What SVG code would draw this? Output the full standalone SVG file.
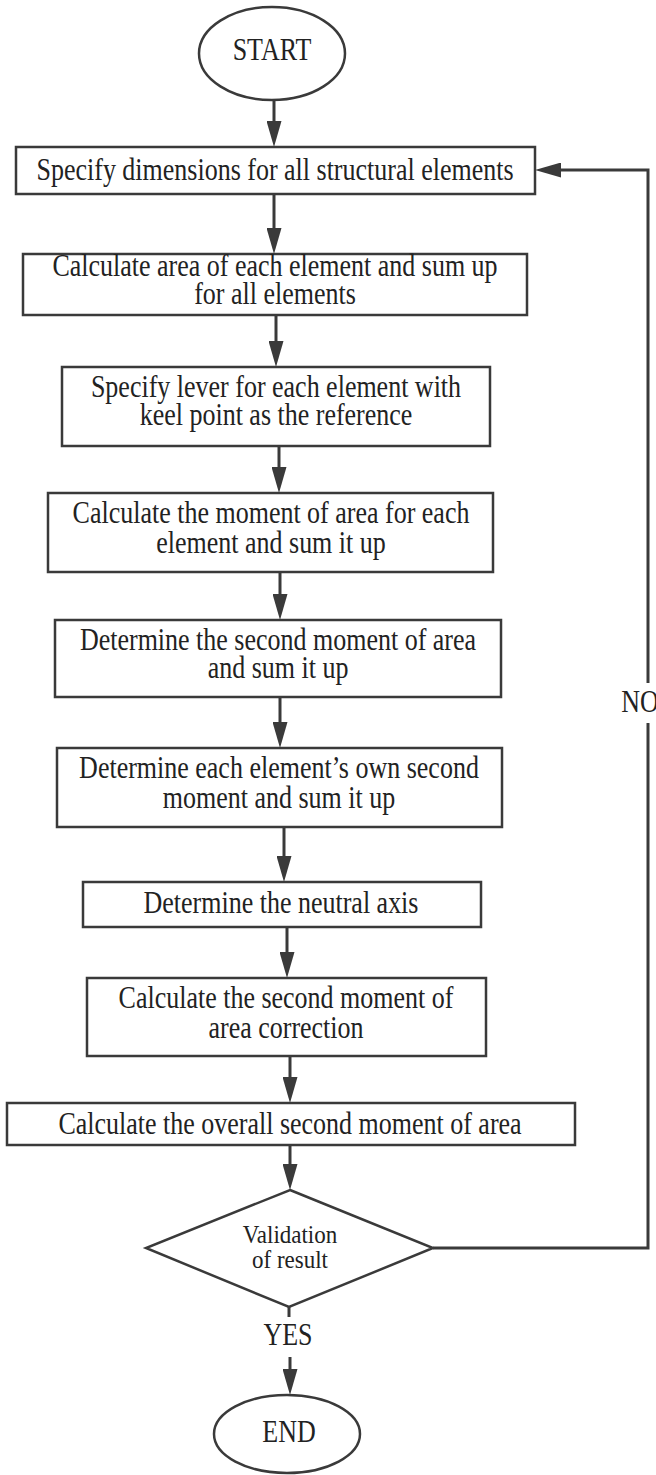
<svg xmlns="http://www.w3.org/2000/svg" width="656" height="1475" viewBox="0 0 656 1475">
<style>
.box{fill:#fff;stroke:#3a3a3a;stroke-width:2.5}
.t{font-family:"Liberation Serif","Times New Roman",serif;font-size:26px;fill:#222;text-anchor:middle}
.ts{font-family:"Liberation Serif","Times New Roman",serif;font-size:23px;fill:#222;text-anchor:middle}
.c{fill:none;stroke:#3a3a3a;stroke-width:3}
</style>
<defs>
<marker id="ah" markerUnits="userSpaceOnUse" markerWidth="26" markerHeight="15" refX="6" refY="7.5" orient="auto">
<path d="M0,0 L26,7.5 L0,15 Z" fill="#3a3a3a"/>
</marker>
</defs>
<rect width="656" height="1475" fill="#fff"/>
<g id="connectors">
<path class="c" d="M274,100 V127" marker-end="url(#ah)"/>
<path class="c" d="M274,194 V234" marker-end="url(#ah)"/>
<path class="c" d="M276,315 V347" marker-end="url(#ah)"/>
<path class="c" d="M279,446 V473" marker-end="url(#ah)"/>
<path class="c" d="M280,572 V600" marker-end="url(#ah)"/>
<path class="c" d="M280,697 V728" marker-end="url(#ah)"/>
<path class="c" d="M284,827 V862" marker-end="url(#ah)"/>
<path class="c" d="M287,926 V958" marker-end="url(#ah)"/>
<path class="c" d="M290,1056 V1083" marker-end="url(#ah)"/>
<path class="c" d="M290,1145 V1170" marker-end="url(#ah)"/>
<path class="c" d="M289,1307 V1317"/>
<path class="c" d="M290,1357 V1375" marker-end="url(#ah)"/>
<path class="c" d="M433,1248 H648 V723"/>
<path class="c" d="M648,683 V170 H555" marker-end="url(#ah)"/>
<text class="t" transform="matrix(1,0,0,1.18,640,712)">NO</text>
<text class="t" transform="matrix(1,0,0,1.18,288,1345)">YES</text>
</g>
<g id="start">
<ellipse class="box" cx="272" cy="53.5" rx="73" ry="46.5"/>
<text class="t" transform="matrix(1,0,0,1.18,272,60)">START</text>
</g>
<g id="n1">
<rect class="box" x="16" y="147" width="519" height="47"/>
<text class="t" transform="matrix(1,0,0,1.18,275,180)">Specify dimensions for all structural elements</text>
</g>
<g id="n2">
<rect class="box" x="23" y="254" width="504" height="61"/>
<text class="t" transform="matrix(1,0,0,1.18,275,276)">Calculate area of each element and sum up</text>
<text class="t" transform="matrix(1,0,0,1.18,275,304)">for all elements</text>
</g>
<g id="n3">
<rect class="box" x="62" y="367" width="428" height="79"/>
<text class="t" transform="matrix(1,0,0,1.18,276,397)">Specify lever for each element with</text>
<text class="t" transform="matrix(1,0,0,1.18,276,425)">keel point as the reference</text>
</g>
<g id="n4">
<rect class="box" x="48" y="493" width="445" height="79"/>
<text class="t" transform="matrix(1,0,0,1.18,271,523)">Calculate the moment of area for each</text>
<text class="t" transform="matrix(1,0,0,1.18,271,553)">element and sum it up</text>
</g>
<g id="n5">
<rect class="box" x="55" y="620" width="446" height="77"/>
<text class="t" transform="matrix(1,0,0,1.18,278,650)">Determine the second moment of area</text>
<text class="t" transform="matrix(1,0,0,1.18,278,678)">and sum it up</text>
</g>
<g id="n6">
<rect class="box" x="57" y="748" width="445" height="79"/>
<text class="t" transform="matrix(1,0,0,1.18,279,778)">Determine each element’s own second</text>
<text class="t" transform="matrix(1,0,0,1.18,279,808)">moment and sum it up</text>
</g>
<g id="n7">
<rect class="box" x="83" y="882" width="398" height="45"/>
<text class="t" transform="matrix(1,0,0,1.18,281,913)">Determine the neutral axis</text>
</g>
<g id="n8">
<rect class="box" x="87" y="978" width="399" height="78"/>
<text class="t" transform="matrix(1,0,0,1.18,286,1008)">Calculate the second moment of</text>
<text class="t" transform="matrix(1,0,0,1.18,286,1038)">area correction</text>
</g>
<g id="n9">
<rect class="box" x="7" y="1103" width="568" height="42"/>
<text class="t" transform="matrix(1,0,0,1.18,290,1134)">Calculate the overall second moment of area</text>
</g>
<g id="decision">
<polygon class="box" points="290,1190 433,1248 289,1307 146,1248"/>
<text class="ts" transform="matrix(1,0,0,1.08,290,1243)">Validation</text>
<text class="ts" transform="matrix(1,0,0,1.08,290,1268)">of result</text>
</g>
<g id="end">
<ellipse class="box" cx="287" cy="1434" rx="73" ry="39"/>
<text class="t" transform="matrix(1,0,0,1.18,289,1442)">END</text>
</g>
</svg>
